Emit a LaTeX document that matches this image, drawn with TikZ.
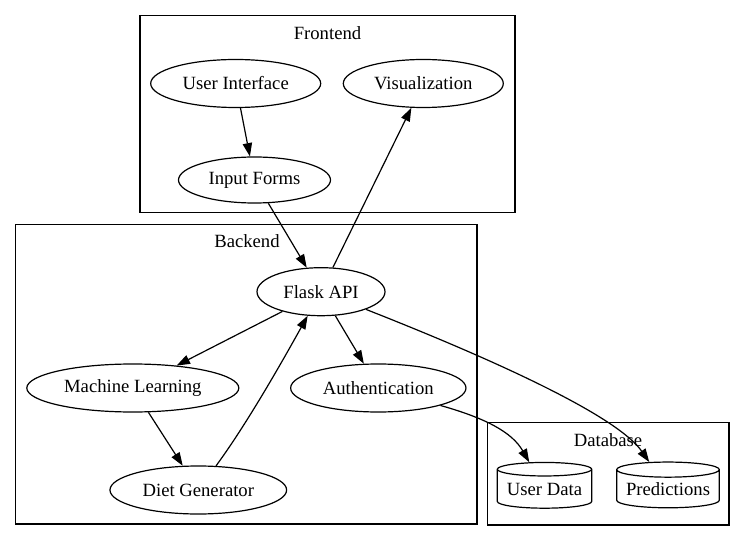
\documentclass[tikz,border=0pt]{standalone}
\usepackage{fontspec}
\setmainfont{Liberation Serif}
\usetikzlibrary{shapes.geometric,arrows.meta}

\tikzset{
  proc/.style={ellipse, draw, line width=0.9pt, inner sep=0pt, font=\fontsize{14pt}{16pt}\selectfont},
  store/.style={cylinder, shape border rotate=90, aspect=0.18, draw, line width=0.9pt, inner sep=0pt,
                font=\fontsize{14pt}{16pt}\selectfont},
  cluster/.style={rectangle, draw, line width=0.9pt, inner sep=0pt},
  clabel/.style={inner sep=0pt, font=\fontsize{14pt}{16pt}\selectfont},
  link/.style={line width=0.9pt, -{Triangle[length=10pt,width=7pt]}}
}

\begin{document}
\begin{tikzpicture}[x=0.75pt, y=-0.75pt]
\useasboundingbox (0,0) rectangle (745,541);

% clusters
\node[cluster, minimum width=281.25pt, minimum height=147.75pt] (frontend) at (327.5,114.2) {};
\node[clabel] (frontendlbl) at (327.5,33) {Frontend};
\node[cluster, minimum width=346pt, minimum height=224.5pt] (backend) at (246.3,374.3) {};
\node[clabel] (backendlbl) at (247,241) {Backend};
\node[cluster, minimum width=181.3pt, minimum height=76.7pt] (database) at (608.2,473.8) {};
\node[clabel] (databaselbl) at (608,440) {Database};

% frontend nodes
\node[proc, minimum width=127.5pt, minimum height=36pt] (ui) at (235.7,83.5) {User Interface};
\node[proc, minimum width=120pt, minimum height=36pt] (vis) at (423.3,83.5) {Visualization};
\node[proc, minimum width=114pt, minimum height=34.5pt] (forms) at (254.5,180) {Input Forms};

% backend nodes
\node[proc, minimum width=96pt, minimum height=36pt] (api) at (321,291.7) {Flask API};
\node[proc, minimum width=159pt, minimum height=36pt] (ml) at (132.8,388) {Machine Learning};
\node[proc, minimum width=131.5pt, minimum height=36pt] (auth) at (378.3,388) {Authentication};
\node[proc, minimum width=132.5pt, minimum height=36pt] (diet) at (198.3,490) {Diet Generator};

% database nodes
\node[store, minimum width=70.8pt, minimum height=34.3pt] (userdata) at (544.5,489) {User Data};
\node[store, minimum width=77pt, minimum height=34.3pt] (preds) at (668,489) {Predictions};

% connectors
\draw[link] (ui) -- (forms);
\draw[link] (forms) -- (api);
\draw[link] (api) -- (vis);
\draw[link] (api) -- (ml);
\draw[link] (api) -- (auth);
\draw[link] (ml) -- (diet);
\draw[link] (diet) .. controls (235,440) and (262,398) .. (api);
\draw[link] (api) .. controls (520,370) and (620,420) .. (preds);
\draw[link] (auth) .. controls (485,418) and (512,432) .. (userdata);
\end{tikzpicture}
\end{document}
